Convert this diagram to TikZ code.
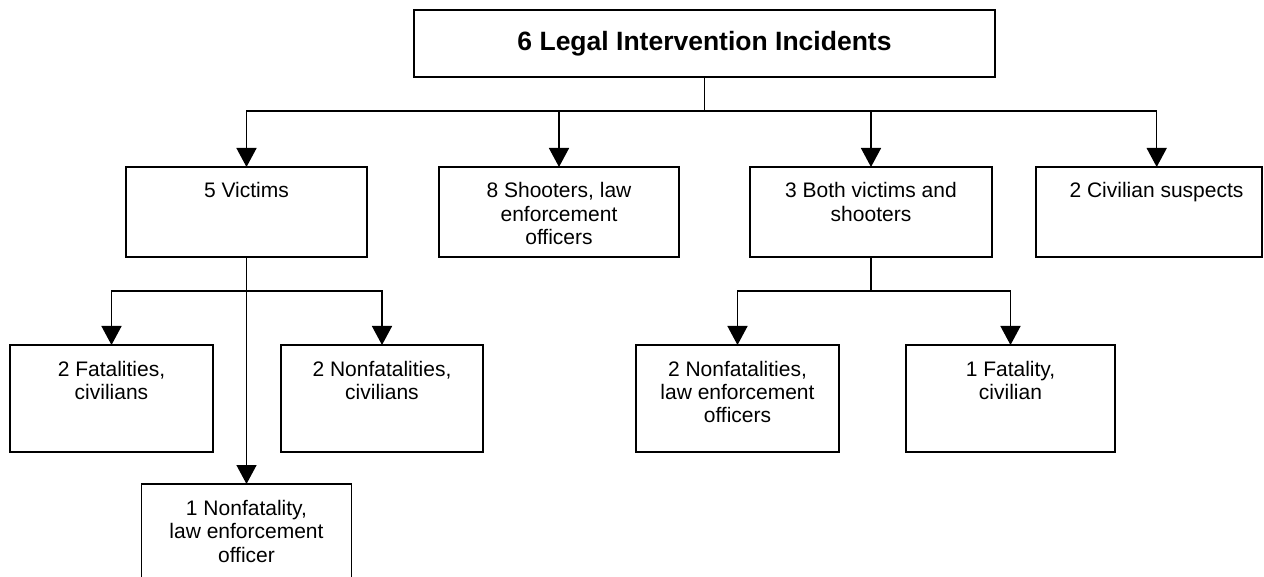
\documentclass[tikz,border=0pt]{standalone}
\usepackage{fontspec}
\setmainfont{Liberation Sans}
\usetikzlibrary{arrows.meta}
\newcommand{\bxt}[3]{\parbox[t][#2pt][t]{#1pt}{\centering\rule{0pt}{31pt}#3}}
\begin{document}
\begin{tikzpicture}[x=1pt,y=-1pt,
  boxnode/.style={draw, line width=1.6pt, inner sep=0pt, outer sep=0pt, anchor=north west, font=\fontsize{21}{23.5}\selectfont},
  conn/.style={line width=1.5pt},
  arr/.style={conn, -{Triangle[width=20pt,length=19pt]}}]
\useasboundingbox (0,0) rectangle (1264,577);
% top
\node[boxnode] (top) at (414,10) {\parbox[c][67pt][c]{581pt}{\centering\bfseries\fontsize{26.5}{30}\selectfont 6 Legal Intervention Incidents}};
% row 2
\node[boxnode] (v) at (126,167) {\bxt{241}{90}{5 Victims}};
\node[boxnode] (s) at (439,167) {\bxt{240}{90}{8 Shooters, law\\enforcement\\officers}};
\node[boxnode] (b) at (750,167) {\bxt{242}{90}{3 Both victims and\\shooters}};
\node[boxnode] (c) at (1036,167) {\bxt{226}{90}{\hspace*{15pt}2 Civilian suspects}};
% row 3
\node[boxnode] (f) at (10,345) {\bxt{203}{107}{2 Fatalities,\\civilians}};
\node[boxnode] (nc) at (281,345) {\bxt{202}{107}{2 Nonfatalities,\\civilians}};
\node[boxnode] (nl) at (636,345) {\bxt{203}{107}{2 Nonfatalities,\\law enforcement\\officers}};
\node[boxnode] (fc) at (906,345) {\bxt{209}{107}{1 Fatality,\\civilian}};
% row 4
\node[boxnode] (n1) at (141.5,484) {\bxt{210}{107}{1 Nonfatality,\\law enforcement\\officer}};
% connectors
\coordinate (j1) at (704.5,111);
\coordinate (cn) at (1156.7,167);
\draw[conn] (top.south) -- (j1);
\draw[arr] (j1) -| (v.north);
\draw[arr] (j1) -| (s.north);
\draw[arr] (j1) -| (b.north);
\draw[arr] (j1) -| (cn);
\coordinate (j2) at (246.5,291);
\draw[arr] (v.south) -- (n1.north);
\draw[arr] (j2) -| (f.north);
\draw[arr] (j2) -| (nc.north);
\coordinate (j3) at (871,291);
\draw[conn] (b.south) -- (j3);
\draw[arr] (j3) -| (nl.north);
\draw[arr] (j3) -| (fc.north);
\end{tikzpicture}
\end{document}
